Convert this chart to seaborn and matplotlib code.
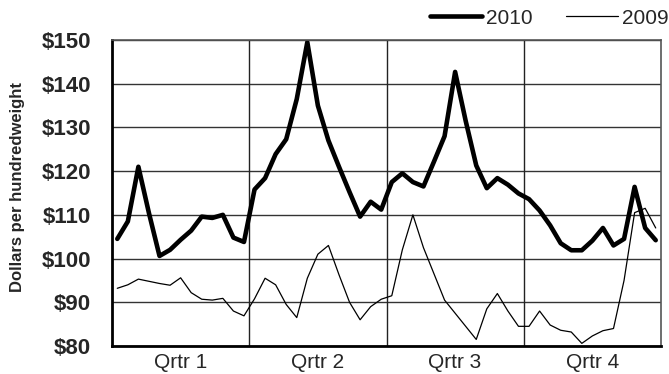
import numpy as np
import pandas as pd
import seaborn as sns
import matplotlib
matplotlib.use("Agg")
import matplotlib.pyplot as plt

# weekly prices, dollars per hundredweight
weeks = list(range(1, 53))
price_2010 = [104.5, 108.5, 121.0, 110.4, 100.6, 102.0, 104.3, 106.4, 109.6, 109.3, 110.0, 104.8, 103.8,
              115.8, 118.4, 123.9, 127.3, 136.5, 149.5, 135.0, 127.0, 121.0, 115.2, 109.6, 113.0, 111.2,
              117.5, 119.5, 117.5, 116.5, 122.2, 128.0, 142.7, 131.5, 121.3, 116.1, 118.4, 116.9, 114.9,
              113.6, 111.0, 107.6, 103.5, 101.9, 101.9, 104.1, 107.0, 103.0, 104.5, 116.4, 107.0, 104.2]
price_2009 = [93.2, 94.0, 95.3, 94.8, 94.3, 93.9, 95.6, 92.2, 90.7, 90.5, 90.9, 88.0, 86.9,
              90.8, 95.5, 94.0, 89.5, 86.5, 95.5, 101.0, 103.0, 96.3, 90.0, 86.0, 89.0, 90.7,
              91.5, 102.0, 110.0, 102.5, 96.5, 90.5, 87.5, 84.5, 81.5, 88.5, 92.0, 88.0, 84.5,
              84.5, 88.0, 84.8, 83.6, 83.2, 80.6, 82.3, 83.5, 84.0, 95.0, 110.5, 111.5, 107.0]
quarter_labels = ['Qrtr 1', 'Qrtr 2', 'Qrtr 3', 'Qrtr 4']
quarter_centers = [7, 20, 33, 46]
quarter_bounds = [13.5, 26.5, 39.5]
y_ticks = [80, 90, 100, 110, 120, 130, 140, 150]

df = pd.DataFrame({'week': weeks * 2,
                   'price': price_2010 + price_2009,
                   'year': ['2010'] * 52 + ['2009'] * 52})

sns.set_style('white')
plt.rcParams['font.family'] = ['Liberation Sans', 'DejaVu Sans']

fig = plt.figure(figsize=(6.69, 3.74), dpi=100)
ax = fig.add_axes([112/669, 28/374, 549/669, 306/374])

sns.lineplot(data=df[df.year == '2010'], x='week', y='price', color='black',
             linewidth=3.3, ax=ax, label='2010', solid_joinstyle='round', solid_capstyle='round')
sns.lineplot(data=df[df.year == '2009'], x='week', y='price', color='black',
             linewidth=0.9, ax=ax, label='2009')

ax.set_xlim(0.5, 52.5)
ax.set_ylim(80, 150)
ax.set_yticks(y_ticks)
ax.set_yticklabels(['$%d' % v for v in y_ticks], fontsize=16, fontweight='bold')
ax.set_xticks(quarter_centers)
ax.set_xticklabels(quarter_labels, fontsize=15)
ax.tick_params(axis='x', length=0, pad=5)
ax.tick_params(axis='y', length=7, width=1, color='#333333', direction='out', pad=8)

ax.grid(False)
for v in y_ticks:
    ax.axhline(v, color='#333333', lw=1, zorder=0)
for b in quarter_bounds:
    ax.axvline(b, color='#222222', lw=1, zorder=0)

ax.set_xlabel('')
ax.set_ylabel('Dollars per hundredweight', fontsize=12, fontweight='bold')
ax.yaxis.set_label_coords(-0.158, 0.52)

for s in ['left', 'bottom']:
    ax.spines[s].set_color('black')
    ax.spines[s].set_linewidth(2)
for s in ['top', 'right']:
    ax.spines[s].set_color('#555555')
    ax.spines[s].set_linewidth(1.2)

ax.get_legend().remove()
handles, labels = ax.get_legend_handles_labels()
fig.legend(handles, labels, loc='center right', bbox_to_anchor=(1.0, 1 - 18/374),
           ncol=2, frameon=False, fontsize=15, handlelength=2.5, handletextpad=0.2,
           columnspacing=1.6, borderaxespad=0, borderpad=0)

fig.savefig('out.png', dpi=100)
